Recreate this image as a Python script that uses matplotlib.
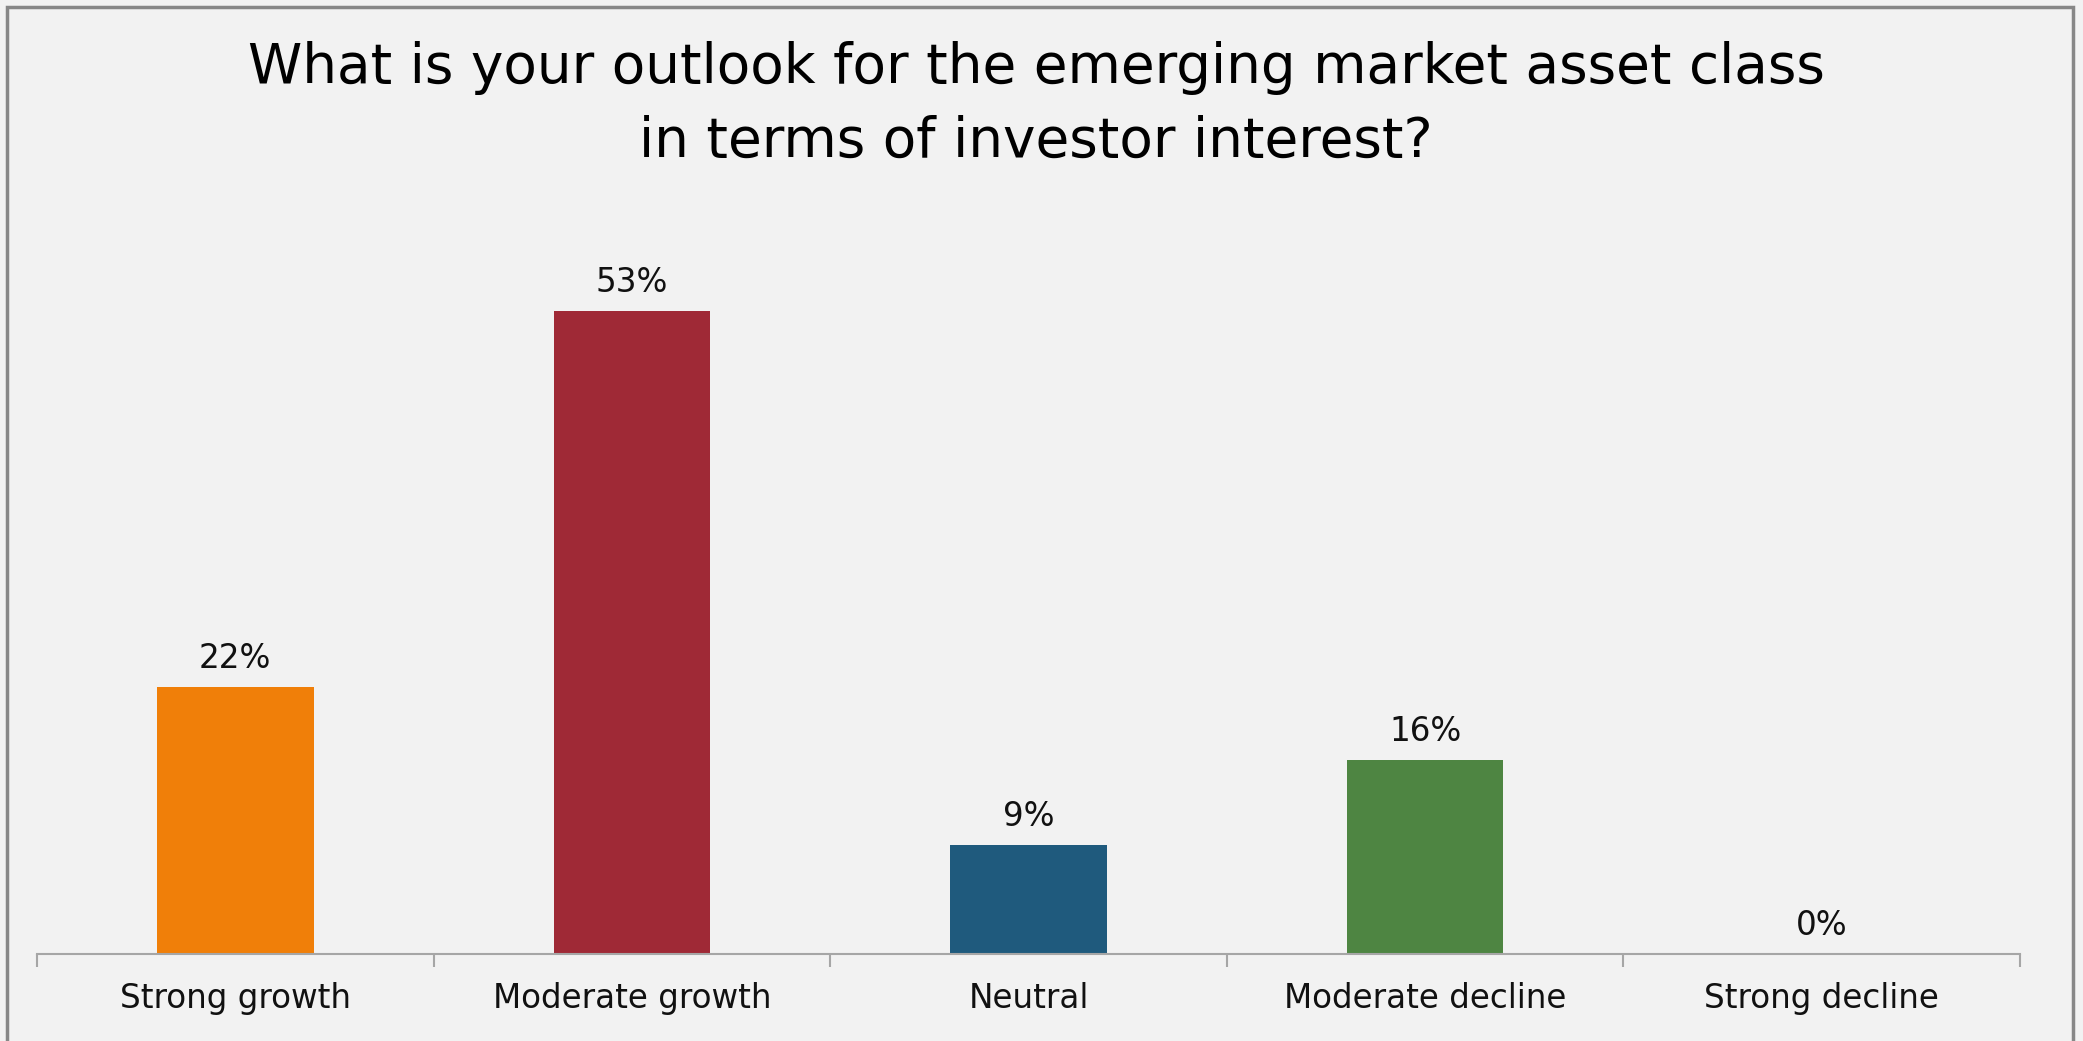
import matplotlib
matplotlib.use("Agg")
import matplotlib.pyplot as plt
from matplotlib.patches import Rectangle

categories = ["Strong growth", "Moderate growth", "Neutral", "Moderate decline", "Strong decline"]
shares = [0.22, 0.53, 0.09, 0.16, 0.00]
bar_colors = ["#F07F09", "#9F2936", "#1F5A7D", "#4E8542", "#7F6084"]
title_lines = ["What is your outlook for the emerging market asset class",
               "in terms of investor interest?"]

W, H, DPI = 2083, 1041, 100
fig = plt.figure(figsize=(W / DPI, H / DPI), dpi=DPI)
fig.patch.set_facecolor("#F2F2F2")

# outer frame of the chart area
fig.add_artist(Rectangle((7 / W, -0.01), (2073 - 7) / W, 1.01 - 7 / H,
                         transform=fig.transFigure, fill=False,
                         edgecolor="#878787", linewidth=2.5))

# plot area: baseline at y=954 px, x from 37 to 2020 px
x0, x1 = 37, 2020
base_y = 954
ymax = 0.6
px_per_unit = 1214  # pixels per 100%
top_y = base_y - ymax * px_per_unit
ax = fig.add_axes([x0 / W, 1 - base_y / H, (x1 - x0) / W, (base_y - top_y) / H])
ax.set_facecolor("none")

xs = list(range(len(categories)))
ax.bar(xs, shares, width=0.395, color=bar_colors, zorder=2)
ax.set_xlim(-0.5, len(categories) - 0.5)
ax.set_ylim(0, ymax)

for x, v in zip(xs, shares):
    ax.annotate(f"{v:.0%}", (x, v), xytext=(0, 13.5), textcoords="offset points",
                ha="center", va="baseline", fontsize=23.5, color="#111111")

for s in ["top", "right", "left"]:
    ax.spines[s].set_visible(False)
ax.spines["bottom"].set_color("#A6A6A6")
ax.spines["bottom"].set_linewidth(1.5)
ax.set_yticks([])

# category labels centred, tick marks at category boundaries
ax.set_xticks(xs)
ax.set_xticklabels(categories, fontsize=23.5, color="#111111")
ax.tick_params(axis="x", which="major", length=0, pad=20)
ax.set_xticks([i - 0.5 for i in range(len(categories) + 1)], minor=True)
ax.tick_params(axis="x", which="minor", length=9, width=1.5, color="#A6A6A6", direction="out")

for line, yb in zip(title_lines, [83, 157]):
    fig.text(1036 / W, 1 - yb / H, line, ha="center", va="baseline",
             fontsize=39.5, color="#000000")

fig.savefig("out.png", dpi=DPI, facecolor=fig.get_facecolor())
